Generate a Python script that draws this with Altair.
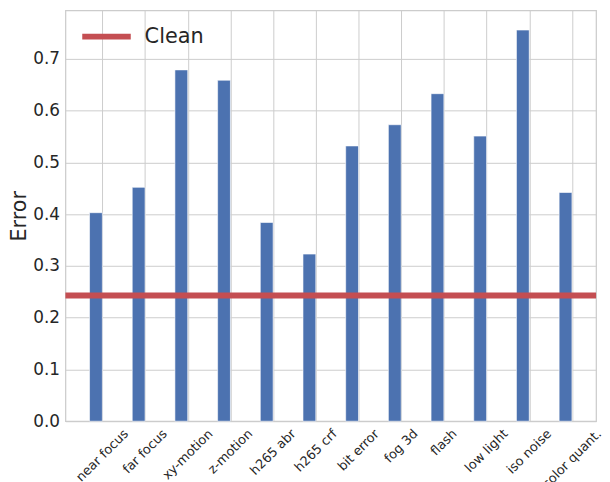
import altair as alt
import pandas as pd

categories = ["near focus", "far focus", "xy-motion", "z-motion", "h265 abr", "h265 crf",
              "bit error", "fog 3d", "flash", "low light", "iso noise", "color quant."]
errors = [0.403, 0.452, 0.679, 0.659, 0.384, 0.323, 0.532, 0.573, 0.633, 0.551, 0.756, 0.442]
clean_series = ["Clean"]
clean_error = [0.243]
y_ticks = [0.0, 0.1, 0.2, 0.3, 0.4, 0.5, 0.6, 0.7]
bar_width = 0.3

FONT = "DejaVu Sans"
TXT = "#262626"
GRID = "#cccccc"
W, H = 536, 415
LABEL_FS = 13

# DejaVu Sans advance widths (em) for estimating rotated label extents
CW = {' ': 0.318, '-': 0.361, '.': 0.318, '2': 0.636, '3': 0.636, '5': 0.636, '6': 0.636,
      'a': 0.613, 'b': 0.635, 'c': 0.550, 'd': 0.635, 'e': 0.615, 'f': 0.352, 'g': 0.635,
      'h': 0.634, 'i': 0.278, 'k': 0.579, 'l': 0.278, 'm': 0.974, 'n': 0.634, 'o': 0.612,
      'p': 0.635, 'q': 0.635, 'r': 0.411, 's': 0.521, 't': 0.392, 'u': 0.634, 'v': 0.592,
      'w': 0.818, 'x': 0.592, 'y': 0.592, 'z': 0.525}

df = pd.DataFrame({"cat": categories, "err": errors, "idx": list(range(len(categories)))})
df["x0"] = df["idx"] - bar_width
df["tw"] = [sum(CW.get(c, 0.6) for c in s) * LABEL_FS for s in categories]

clean_df = pd.DataFrame({"series": clean_series, "v": clean_error})

xscale = alt.Scale(domain=[-0.865, 11.565], nice=False, zero=False, padding=0)
yscale = alt.Scale(domain=[0, 0.794], nice=False, padding=0)

bars = alt.Chart(df).mark_bar(
    color="#4C72B0", stroke="white", strokeWidth=1, strokeOpacity=0.6
).encode(
    x=alt.X("x0:Q", scale=xscale,
            axis=alt.Axis(values=list(range(len(categories))), labels=False, ticks=False,
                          domain=False, grid=True, gridColor=GRID, gridWidth=1, title=None)),
    x2="idx:Q",
    y=alt.Y("err:Q", scale=yscale,
            axis=alt.Axis(values=y_ticks, format=".1f", title="Error", ticks=False, domain=False,
                          grid=True, gridColor=GRID, gridWidth=1,
                          labelFont=FONT, labelFontSize=17, labelColor=TXT, labelPadding=6,
                          titleFont=FONT, titleFontSize=21, titleColor=TXT,
                          titleFontWeight="normal", titlePadding=3)),
    y2=alt.datum(0),
)

rule = alt.Chart(clean_df).mark_rule(strokeWidth=6).encode(
    y=alt.Y("v:Q", scale=yscale, axis=None),
    color=alt.Color("series:N", scale=alt.Scale(range=["#C44E52"]),
                    legend=alt.Legend(title=None, orient="none", legendX=14, legendY=-1,
                                      symbolType="stroke", symbolSize=2400,
                                      symbolStrokeWidth=6, labelFont=FONT, labelFontSize=21,
                                      labelColor=TXT, labelOffset=11, padding=0)),
)

labels = alt.Chart(df).transform_calculate(
    ly=f"{H} + 6 + (datum.tw + {LABEL_FS}) * 0.3536"
).mark_text(
    angle=315, align="center", baseline="middle", font=FONT, fontSize=LABEL_FS, color=TXT
).encode(
    x=alt.X("idx:Q", scale=xscale),
    y=alt.Y("ly:Q", scale=None, axis=None),
    text="cat:N",
)

chart = alt.layer(bars, rule, labels).resolve_scale(y="independent").properties(
    width=W, height=H,
    autosize=alt.AutoSizeParams(type="none"),
    padding={"left": 58, "top": 0, "right": 6, "bottom": 59},
    background="white",
).configure_view(stroke=GRID, strokeWidth=1.25)

chart.save("out.html", embed_options={"renderer": "svg", "actions": False})
